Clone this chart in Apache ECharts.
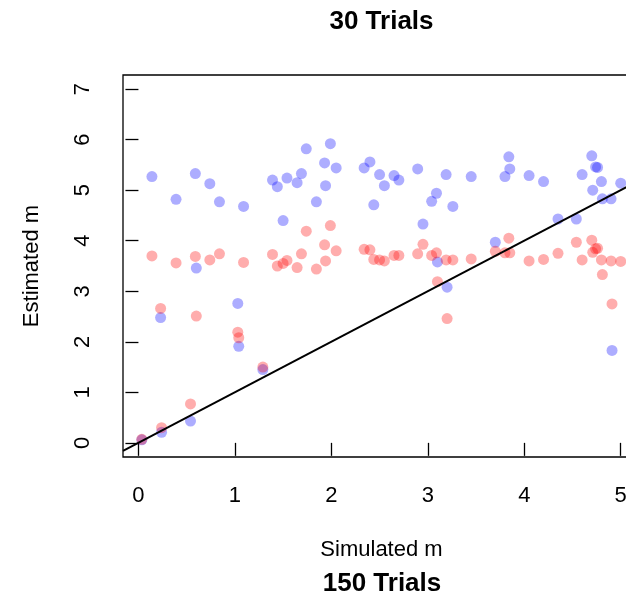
<!DOCTYPE html>
<html><head><meta charset="utf-8">
<script src="https://cdn.jsdelivr.net/npm/echarts@6/dist/echarts.min.js"></script>
<style>html,body{margin:0;padding:0;background:#fff}#c{width:626px;height:596px}</style>
</head><body><div id="c"></div>
<script>
// Simulated m (x) and the two estimates of m (blue and red) for each simulation
const simulatedM = [0.035,0.14,0.23,0.24,0.39,0.54,0.59,0.60,0.74,0.84,
  1.03,1.04,1.09,1.29,1.39,1.44,1.50,1.54,1.645,1.69,
  1.74,1.845,1.93,1.94,1.99,2.05,2.34,2.40,2.44,2.50,
  2.55,2.65,2.70,2.895,2.95,3.04,3.09,3.10,3.19,3.20,
  3.26,3.45,3.70,3.80,3.84,3.85,4.05,4.20,4.35,4.54,
  4.60,4.70,4.71,4.74,4.76,4.80,4.81,4.90,4.91,5.00];
const estimatedBlue = [0.06,5.27,2.48,0.21,4.82,0.43,5.33,3.46,5.13,4.77,
  2.76,1.91,4.68,1.45,5.20,5.07,4.40,5.24,5.15,5.33,
  5.82,4.77,5.54,5.09,5.92,5.44,5.44,5.56,4.71,5.31,
  5.09,5.29,5.20,5.42,4.33,4.78,4.94,3.58,5.31,3.08,
  4.68,5.27,3.97,5.27,5.66,5.42,5.29,5.17,4.43,4.43,
  5.31,5.68,5.00,5.46,5.45,5.17,4.83,4.83,1.83,5.14];
const estimatedRed = [0.07,3.70,2.66,0.30,3.56,0.77,3.69,2.51,3.62,3.74,
  2.19,2.08,3.57,1.50,3.73,3.50,3.55,3.61,3.47,3.74,
  4.19,3.44,3.92,3.60,4.30,3.80,3.83,3.82,3.63,3.62,
  3.60,3.71,3.71,3.74,3.93,3.71,3.76,3.19,3.62,2.46,
  3.62,3.64,3.79,3.76,4.05,3.76,3.60,3.63,3.75,3.97,
  3.62,4.01,3.77,3.84,3.85,3.62,3.33,3.60,2.75,3.59];
const xTicks = [0,1,2,3,4,5];
const yTicks = [0,1,2,3,4,5,6,7];
const xRange = [-0.16, 5.2];
const yRange = [-0.28, 7.28];
const refLine = {slope: 1, intercept: 0};

const FONT = 'Liberation Sans';
const bluePts = simulatedM.map((x,i)=>[x, estimatedBlue[i]]);
const redPts = simulatedM.map((x,i)=>[x, estimatedRed[i]]);
const linePts = xRange.map(x=>[x, refLine.slope*x + refLine.intercept]);

const chart = echarts.init(document.getElementById('c'), null, {renderer:'canvas'});
chart.setOption({
  animation:false,
  backgroundColor:'#fff',
  grid:{left:123, top:75, width:517, height:382, outerBoundsMode:'none', containLabel:false,
    show:true, borderColor:'#000', borderWidth:1.3, backgroundColor:'transparent'},
  xAxis:{type:'value', min:xRange[0], max:xRange[1],
    name:'Simulated m', nameLocation:'middle', nameGap:82,
    nameTextStyle:{fontFamily:FONT, fontSize:22, color:'#000'},
    splitLine:{show:false}, axisLine:{show:false},
    axisTick:{show:true, length:13, lineStyle:{color:'#000', width:1.3}, customValues:xTicks},
    axisLabel:{fontFamily:FONT, fontSize:22, color:'#000', margin:28, customValues:xTicks}},
  yAxis:{type:'value', min:yRange[0], max:yRange[1],
    name:'Estimated m', nameLocation:'middle', nameGap:80,
    nameTextStyle:{fontFamily:FONT, fontSize:22, color:'#000'},
    splitLine:{show:false}, axisLine:{show:false},
    axisTick:{show:true, length:13, lineStyle:{color:'#000', width:1.3}, customValues:yTicks},
    axisLabel:{fontFamily:FONT, fontSize:22, color:'#000', margin:29, rotate:90, customValues:yTicks}},
  graphic:[
    {type:'text', x:381.5, y:22, style:{text:'30 Trials', font:'bold 26px "Liberation Sans"', fill:'#000', textAlign:'center', textVerticalAlign:'middle'}},
    {type:'text', x:382, y:584, style:{text:'150 Trials', font:'bold 26px "Liberation Sans"', fill:'#000', textAlign:'center', textVerticalAlign:'middle'}}
  ],
  series:[
    {type:'scatter', data:bluePts, symbolSize:11, itemStyle:{color:'rgba(0,0,255,0.4)'}, z:2},
    {type:'scatter', data:redPts, symbolSize:11, itemStyle:{color:'rgba(255,0,0,0.4)'}, z:2},
    {type:'line', data:linePts, showSymbol:false, symbol:'none', lineStyle:{color:'#000', width:2}, z:3, clip:true}
  ]
});
</script></body></html>
